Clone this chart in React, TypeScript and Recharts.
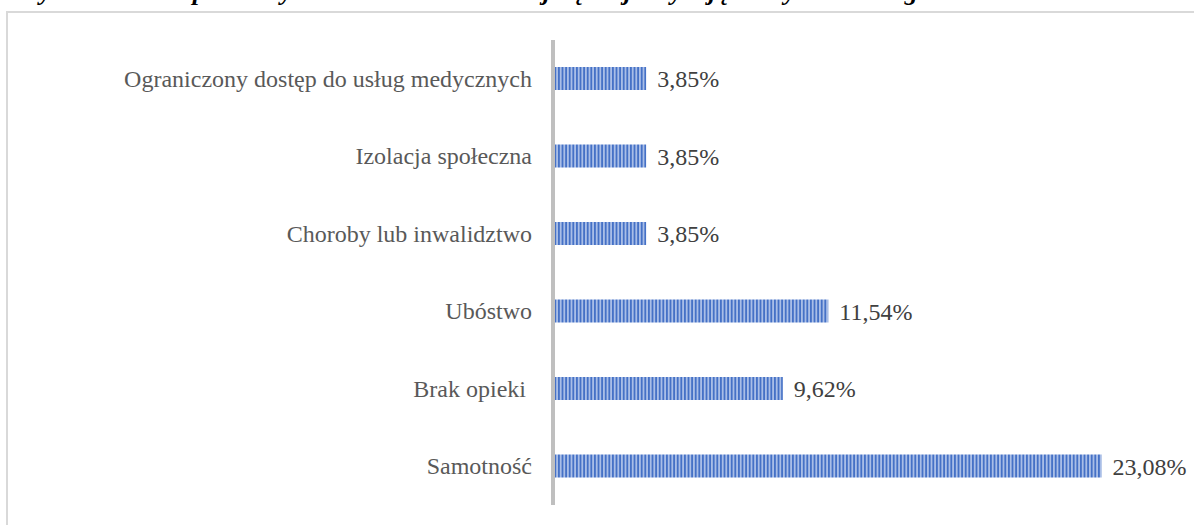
import React from "react";
import { BarChart, Bar, XAxis, YAxis, LabelList } from "recharts";

const categories = [
  "Ograniczony dostęp do usług medycznych",
  "Izolacja społeczna",
  "Choroby lub inwalidztwo",
  "Ubóstwo",
  "Brak opieki ",
  "Samotność",
];
const shares = [3.85, 3.85, 3.85, 11.54, 9.62, 23.08];

const data = categories.map((name, i) => ({ name, value: shares[i] }));

const FONT = "'Liberation Serif', 'Times New Roman', serif";

const CategoryTick = (props: any) => {
  const { x, y, payload } = props;
  return (
    <text
      x={x}
      y={y}
      dy={8}
      textAnchor="end"
      fill="#595959"
      fontSize={24}
      fontFamily={FONT}
      style={{ whiteSpace: "pre" }}
    >
      {payload.value}
    </text>
  );
};

const fmt = (v: number) => v.toFixed(2).replace(".", ",") + "%";

export default function App() {
  return (
    <div
      style={{
        position: "absolute",
        left: 0,
        top: 0,
        width: 1194,
        height: 525,
        overflow: "hidden",
        background: "#fff",
      }}
    >
      <div
        style={{
          position: "absolute",
          left: 18,
          top: -23,
          whiteSpace: "nowrap",
          fontFamily: FONT,
          fontStyle: "italic",
          fontWeight: "bold",
          fontSize: 26,
          lineHeight: "30px",
          color: "#000",
        }}
      >
        Wykres 4. Jakie problemy Pana/Pani zdaniem najczęściej dotykają osoby starsze w gminie?
      </div>
      <div
        style={{
          position: "absolute",
          left: 6,
          top: 11,
          width: 1220,
          height: 540,
          border: "2px solid #d9d9d9",
        }}
      />
      <div style={{ position: "absolute", left: 0, top: 0 }}>
        <BarChart
          width={1194}
          height={525}
          layout="vertical"
          data={data}
          margin={{ top: 40, right: 47, bottom: 20, left: 0 }}
          barCategoryGap={0}
        >
          <defs>
            <pattern
              id="stripes"
              patternUnits="userSpaceOnUse"
              width={3.6}
              height={10}
            >
              <rect width={3.6} height={10} fill="#a9bee7" />
              <rect width={1.8} height={10} fill="#4571c6" />
            </pattern>
          </defs>
          <XAxis type="number" domain={[0, 25]} hide padding={{ left: 2, right: 0 }} />
          <YAxis
            type="category"
            dataKey="name"
            width={553}
            axisLine={{ stroke: "#bfbfbf", strokeWidth: 4 }}
            tickLine={false}
            tickSize={0}
            tickMargin={21}
            interval={0}
            tick={(p: any) => <CategoryTick {...p} />}
          />
          <Bar
            dataKey="value"
            fill="url(#stripes)"
            barSize={23}
            isAnimationActive={false}
          >
            <LabelList
              dataKey="value"
              position="right"
              offset={11}
              formatter={(v: any) => fmt(Number(v))}
              fill="#404040"
              fontSize={24}
              fontFamily={FONT}
            />
          </Bar>
        </BarChart>
      </div>
    </div>
  );
}
